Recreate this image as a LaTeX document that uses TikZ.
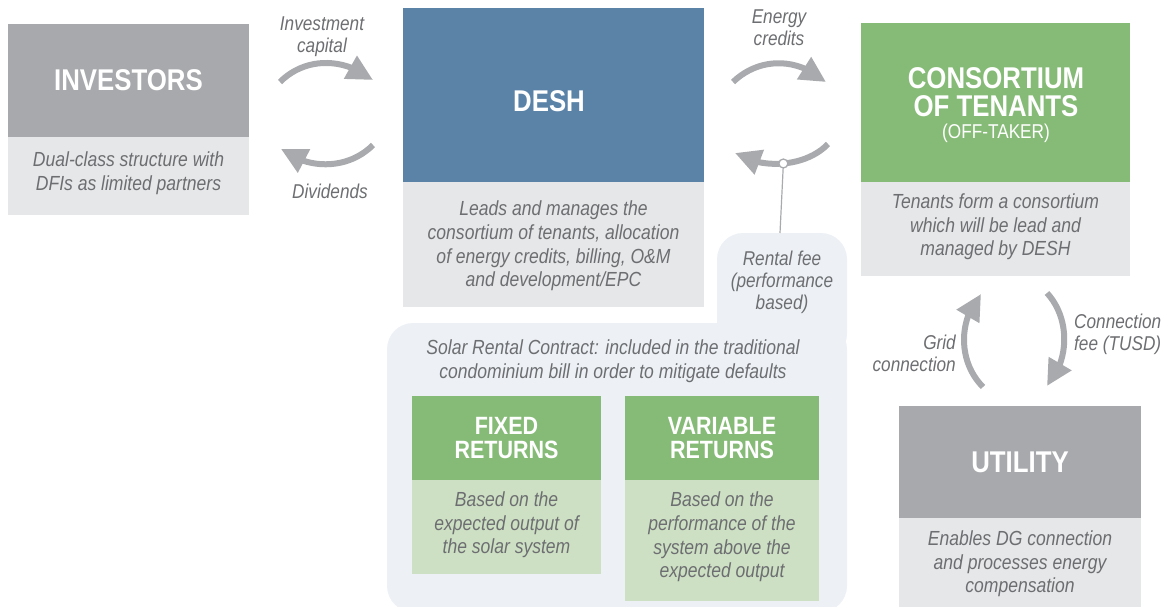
\documentclass[tikz,border=0pt]{standalone}
\usepackage{fontspec}
\setmainfont{Liberation Sans}[FakeStretch=0.86]
\usetikzlibrary{arrows.meta,bending}
\definecolor{dgray}{HTML}{A7A9AC}
\definecolor{lgray}{HTML}{E6E7E8}
\definecolor{dblue}{HTML}{5B83A8}
\definecolor{dgreen}{HTML}{86BB77}
\definecolor{lgreen}{HTML}{CDE0C3}
\definecolor{bubble}{HTML}{EDF1F5}
\definecolor{tgray}{HTML}{6D6E71}
\definecolor{agray}{HTML}{A8AAAD}
\begin{document}
\begin{tikzpicture}[x=1pt,y=-1pt,
  blk/.style={inner sep=0pt, outer sep=0pt, draw=none},
  title/.style={text=white, font=\fontsize{30}{28}\selectfont\bfseries, align=center, inner sep=0pt},
  stitle/.style={text=white, font=\fontsize{25}{24}\selectfont\bfseries, align=center, inner sep=0pt},
  subt/.style={text=white, font=\fontsize{20}{22}\selectfont, align=center, inner sep=0pt},
  body/.style={text=tgray, font=\fontsize{20.4}{23.7}\selectfont\itshape, align=center, inner sep=0pt},
  lbl/.style={text=tgray, font=\fontsize{20}{22}\selectfont\itshape, inner sep=0pt},
  flow/.style={draw=agray, line width=6pt, -{Triangle[length=26pt,width=25pt,flex]}},
  dot/.style={circle, draw=agray, fill=white, line width=1.3pt, inner sep=0pt, minimum size=9pt}
]
\useasboundingbox (0,0) rectangle (1168,607);

% bubble background
\fill[bubble, rounded corners=26pt] (387,323) rectangle (847,612);
\fill[bubble, rounded corners=26pt] (717,233) rectangle (847,360);

% investors
\node[blk, fill=dgray, minimum width=241, minimum height=113, title] (inv) at (128.5,80.5) {INVESTORS};
\node[blk, fill=lgray, minimum width=241, minimum height=78] (invb) at (128.5,176) {};
\node[body] (invt) at (128.5,173) {Dual-class structure with\\DFIs as limited partners};

% desh
\node[blk, fill=dblue, minimum width=301, minimum height=174] (desh) at (553.5,95) {};
\node[title] (desht) at (549,101) {DESH};
\node[blk, fill=lgray, minimum width=301, minimum height=125] (deshb) at (553.5,244.5) {};
\node[body] (desht2) at (553.5,246) {Leads and manages the\\consortium of tenants, allocation\\of energy credits, billing, O\&M\\and development/EPC};

% consortium
\node[blk, fill=dgreen, minimum width=269, minimum height=159] (cons) at (995.5,102.5) {};
\node[title] (const) at (996,92) {CONSORTIUM\\OF TENANTS};
\node[subt] (conss) at (996,133) {(OFF-TAKER)};
\node[blk, fill=lgray, minimum width=269, minimum height=94] (consb) at (995.5,229) {};
\node[body] (const2) at (995.5,227) {Tenants form a consortium\\which will be lead and\\managed by DESH};

% utility
\node[blk, fill=dgray, minimum width=242, minimum height=112, title] (util) at (1020,462) {UTILITY};
\node[blk, fill=lgray, minimum width=242, minimum height=89] (utilb) at (1020,562.5) {};
\node[body] (utilt) at (1020,564) {Enables DG connection\\and processes energy\\compensation};

% contract
\node[body] (contract) at (613,361) {Solar Rental Contract: included in the traditional\\condominium bill in order to mitigate defaults};
\node[blk, fill=dgreen, minimum width=189, minimum height=84, stitle] (fixed) at (506.5,438) {FIXED\\RETURNS};
\node[blk, fill=lgreen, minimum width=189, minimum height=94] (fixedb) at (506.5,527) {};
\node[body] (fixedt) at (506.5,525) {Based on the\\expected output of\\the solar system};
\node[blk, fill=dgreen, minimum width=194, minimum height=84, stitle] (var) at (722,438) {VARIABLE\\RETURNS};
\node[blk, fill=lgreen, minimum width=194, minimum height=121] (varb) at (722,540.5) {};
\node[body] (vart) at (722,537) {Based on the\\performance of the\\system above the\\expected output};

% labels
\node[lbl, align=center] (licap) at (322,37) {Investment\\capital};
\node[lbl, align=center] (lec) at (779,28) {Energy\\credits};
\node[lbl] (ldiv) at (330,191) {Dividends};
\node[lbl, align=center] (lrent) at (782,282) {Rental fee\\(performance\\based)};
\node[lbl, align=right, anchor=east] (lgrid) at (956,353) {Grid\\connection};
\node[lbl, align=left, anchor=west] (lfee) at (1074,334) {Connection\\fee (TUSD)};

% arrows
\coordinate (ic1) at (280,82);   \coordinate (ic2) at (373,80);
\coordinate (dv1) at (373,145);  \coordinate (dv2) at (281,149);
\coordinate (ec1) at (733,82);   \coordinate (ec2) at (826,82);
\coordinate (rf1) at (828,144);  \coordinate (rf2) at (735,153);
\coordinate (gc1) at (983,387);  \coordinate (gc2) at (981,294);
\coordinate (cf1) at (1047,293); \coordinate (cf2) at (1047,386);
\coordinate (rtab) at (780,233);

\draw[flow] (ic1) .. controls (304,58) and (342,56) .. (ic2);
\draw[flow] (dv1) .. controls (348,170) and (308,170) .. (dv2);
\draw[flow] (ec1) .. controls (758,58) and (796,56) .. (ec2);
\draw[flow] (rf1) .. controls (806,167) and (762,170) .. (rf2) coordinate[pos=0.5] (rmid);
\draw[flow] (gc1) .. controls (958,362) and (958,320) .. (gc2);
\draw[flow] (cf1) .. controls (1070,318) and (1070,360) .. (cf2);
\draw[agray, line width=1.2pt] (rmid) -- (rtab);
\node[dot] (rc) at (rmid) {};
\end{tikzpicture}
\end{document}
